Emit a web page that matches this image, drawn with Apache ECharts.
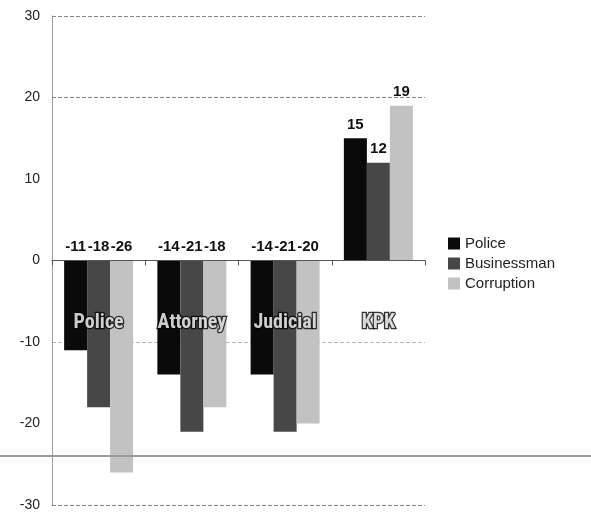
<!DOCTYPE html>
<html>
<head>
<meta charset="utf-8">
<script src="https://cdn.jsdelivr.net/npm/echarts@6/dist/echarts.min.js"></script>
<style>html,body{margin:0;padding:0;background:#fff}#c{width:591px;height:514px}</style>
</head>
<body>
<div id="c"></div>
<script>
const categories = ['Police', 'Attorney', 'Judicial', 'KPK'];
const police = [-11, -14, -14, 15];
const businessman = [-18, -21, -21, 12];
const corruption = [-26, -18, -20, 19];
const yTicks = [-30, -20, -10, 0, 10, 20, 30];
const categoryLabelLevel = -7.7;
const scanLineValue = -24;

const chart = echarts.init(document.getElementById('c'), null, {renderer: 'canvas'});
const labelStyle = {
  show: true, position: 'top', distance: 6,
  fontFamily: 'Liberation Sans, Arial, sans-serif', fontWeight: 'bold', fontSize: 15, color: '#111'
};
function mk(name, data, color) {
  return {
    name, type: 'bar', data, barGap: '0%', barCategoryGap: '26%',
    itemStyle: {color},
    label: labelStyle
  };
}
chart.setOption({
  animation: false,
  grid: {left: 52, right: 166, top: 16, bottom: 9, outerBoundsMode: 'none', containLabel: false},
  legend: {
    orient: 'vertical', left: 443, top: 231, itemWidth: 12, itemHeight: 12, itemGap: 5,
    icon: 'rect',
    textStyle: {fontFamily: 'Liberation Sans, Arial, sans-serif', fontSize: 15, color: '#222'},
    data: ['Police', 'Businessman', 'Corruption']
  },
  xAxis: {
    type: 'category', data: categories,
    axisLine: {onZero: true, lineStyle: {color: '#555', width: 1}},
    axisTick: {show: true, length: 5, lineStyle: {color: '#555'}},
    axisLabel: {show: false},
    z: 10
  },
  yAxis: {
    type: 'value', min: -30, max: 30, interval: 10,
    axisLine: {show: true, lineStyle: {color: '#888', type: 'dotted'}},
    axisTick: {show: false},
    axisLabel: {
      margin: 12, fontFamily: 'Liberation Sans, Arial, sans-serif', fontSize: 14, color: '#222',
      formatter: v => yTicks.includes(v) ? String(v) : ''
    },
    splitLine: {show: true, lineStyle: {color: ['#888', 'rgba(0,0,0,0)', '#bbb', 'rgba(0,0,0,0)', 'rgba(0,0,0,0)', '#888', '#888'], type: 'dashed', width: 1}}
  },
  series: [
    mk('Police', police, '#0a0a0a'),
    mk('Businessman', businessman, '#474747'),
    mk('Corruption', corruption, '#c2c2c2'),
    {
      name: 'catLabels', type: 'scatter', symbolSize: 0, z: 20,
      data: categories.map(c => [c, categoryLabelLevel]),
      label: {
        show: true, position: 'inside', formatter: p => p.value[0],
        color: '#fff', fontSize: 20, fontWeight: 'bold',
        fontFamily: 'Liberation Sans Narrow, Arial Narrow, Roboto Condensed, sans-serif',
        textBorderColor: '#000', textBorderWidth: 2.5
      },
      silent: true
    }
  ]
});
const yPix = chart.convertToPixel({yAxisIndex: 0}, scanLineValue);
chart.setOption({
  graphic: [{
    type: 'line', shape: {x1: 0, y1: yPix, x2: chart.getWidth(), y2: yPix},
    style: {stroke: '#9a9a9a', lineWidth: 2}, z: 100
  }]
});
</script>
</body>
</html>
